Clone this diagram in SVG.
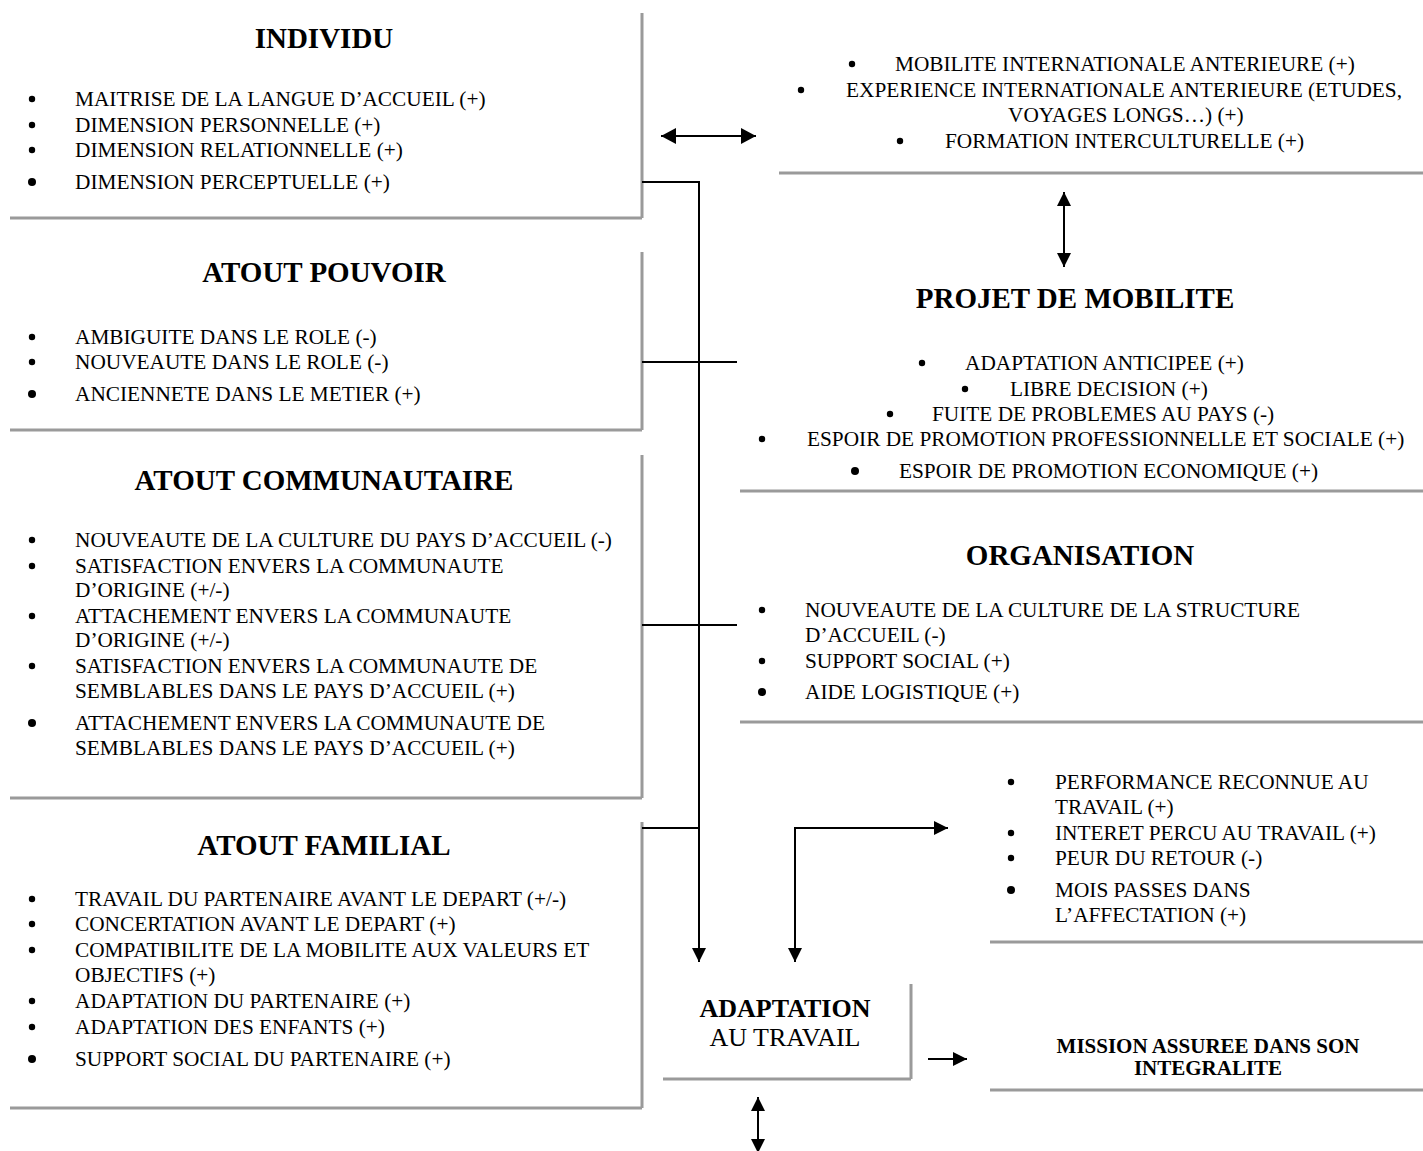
<svg xmlns="http://www.w3.org/2000/svg" width="1423" height="1151" viewBox="0 0 1423 1151">
<style>
  .frame{fill:none;stroke:#9a9a9a;stroke-width:3}
  .title{font-family:"Liberation Serif","Times New Roman",serif;font-weight:bold;font-size:29px;text-anchor:middle;fill:#000}
  .item{font-family:"Liberation Serif","Times New Roman",serif;font-size:21.3px;fill:#000}
  .conn{fill:none;stroke:#000;stroke-width:2}
  .b{fill:#000}
</style>
<defs>
  <marker id="ah" viewBox="0 0 14 14" refX="14" refY="7" markerWidth="14" markerHeight="14" markerUnits="userSpaceOnUse" orient="auto-start-reverse">
    <path d="M0,0 L14,7 L0,14 z" fill="#000"/>
  </marker>
  <marker id="ahb" viewBox="0 0 15 16" refX="15" refY="8" markerWidth="15" markerHeight="16" markerUnits="userSpaceOnUse" orient="auto-start-reverse">
    <path d="M0,0 L15,8 L0,16 z" fill="#000"/>
  </marker>
</defs>
<rect width="1423" height="1151" fill="#fff"/>

<g id="individu">
  <path class="frame" d="M10,218 H642 M642,13 V218"/>
  <text class="title" x="324" y="48">INDIVIDU</text>
  <circle class="b" cx="32" cy="99" r="3.2"/><text class="item" x="75" y="106">MAITRISE DE LA LANGUE D’ACCUEIL (+)</text>
  <circle class="b" cx="32" cy="125" r="3.2"/><text class="item" x="75" y="132">DIMENSION PERSONNELLE (+)</text>
  <circle class="b" cx="32" cy="150" r="3.2"/><text class="item" x="75" y="157">DIMENSION RELATIONNELLE (+)</text>
  <circle class="b" cx="32" cy="182" r="4"/><text class="item" x="75" y="189">DIMENSION PERCEPTUELLE (+)</text>
</g>

<g id="atout-pouvoir">
  <path class="frame" d="M10,430 H642 M642,252 V430"/>
  <text class="title" x="324" y="282">ATOUT POUVOIR</text>
  <circle class="b" cx="32" cy="337" r="3.2"/><text class="item" x="75" y="344">AMBIGUITE DANS LE ROLE (-)</text>
  <circle class="b" cx="32" cy="362" r="3.2"/><text class="item" x="75" y="369">NOUVEAUTE DANS LE ROLE (-)</text>
  <circle class="b" cx="32" cy="394" r="4"/><text class="item" x="75" y="401">ANCIENNETE DANS LE METIER (+)</text>
</g>

<g id="atout-communautaire">
  <path class="frame" d="M10,798 H642 M642,455 V798"/>
  <text class="title" x="324" y="490">ATOUT COMMUNAUTAIRE</text>
  <circle class="b" cx="32" cy="540" r="3.2"/><text class="item" x="75" y="547">NOUVEAUTE DE LA CULTURE DU PAYS D’ACCUEIL (-)</text>
  <circle class="b" cx="32" cy="566" r="3.2"/><text class="item" x="75" y="573">SATISFACTION ENVERS LA COMMUNAUTE</text>
  <text class="item" x="75" y="597">D’ORIGINE (+/-)</text>
  <circle class="b" cx="32" cy="616" r="3.2"/><text class="item" x="75" y="623">ATTACHEMENT ENVERS LA COMMUNAUTE</text>
  <text class="item" x="75" y="647">D’ORIGINE (+/-)</text>
  <circle class="b" cx="32" cy="666" r="3.2"/><text class="item" x="75" y="673">SATISFACTION ENVERS LA COMMUNAUTE DE</text>
  <text class="item" x="75" y="698">SEMBLABLES DANS LE PAYS D’ACCUEIL (+)</text>
  <circle class="b" cx="32" cy="723" r="4"/><text class="item" x="75" y="730">ATTACHEMENT ENVERS LA COMMUNAUTE DE</text>
  <text class="item" x="75" y="755">SEMBLABLES DANS LE PAYS D’ACCUEIL (+)</text>
</g>

<g id="atout-familial">
  <path class="frame" d="M10,1108 H642 M642,822 V1108"/>
  <text class="title" x="324" y="855">ATOUT FAMILIAL</text>
  <circle class="b" cx="32" cy="899" r="3.2"/><text class="item" x="75" y="906">TRAVAIL DU PARTENAIRE AVANT LE DEPART (+/-)</text>
  <circle class="b" cx="32" cy="924" r="3.2"/><text class="item" x="75" y="931">CONCERTATION AVANT LE DEPART (+)</text>
  <circle class="b" cx="32" cy="950" r="3.2"/><text class="item" x="75" y="957">COMPATIBILITE DE LA MOBILITE AUX VALEURS ET</text>
  <text class="item" x="75" y="982">OBJECTIFS (+)</text>
  <circle class="b" cx="32" cy="1001" r="3.2"/><text class="item" x="75" y="1008">ADAPTATION DU PARTENAIRE (+)</text>
  <circle class="b" cx="32" cy="1027" r="3.2"/><text class="item" x="75" y="1034">ADAPTATION DES ENFANTS (+)</text>
  <circle class="b" cx="32" cy="1059" r="4"/><text class="item" x="75" y="1066">SUPPORT SOCIAL DU PARTENAIRE (+)</text>
</g>

<g id="experience-anterieure">
  <path class="frame" d="M779,173 H1423"/>
  <circle class="b" cx="852" cy="64" r="3.2"/><text class="item" x="895" y="71">MOBILITE INTERNATIONALE ANTERIEURE (+)</text>
  <circle class="b" cx="801" cy="90" r="3.2"/><text class="item" x="846" y="97">EXPERIENCE INTERNATIONALE ANTERIEURE (ETUDES,</text>
  <text class="item" x="1008" y="122">VOYAGES LONGS…) (+)</text>
  <circle class="b" cx="900" cy="141" r="3.2"/><text class="item" x="945" y="148">FORMATION INTERCULTURELLE (+)</text>
</g>

<g id="projet-mobilite">
  <path class="frame" d="M740,491 H1423"/>
  <text class="title" x="1075" y="308">PROJET DE MOBILITE</text>
  <circle class="b" cx="922" cy="363" r="3.2"/><text class="item" x="965" y="370">ADAPTATION ANTICIPEE (+)</text>
  <circle class="b" cx="965" cy="389" r="3.2"/><text class="item" x="1010" y="396">LIBRE DECISION (+)</text>
  <circle class="b" cx="890" cy="414" r="3.2"/><text class="item" x="932" y="421">FUITE DE PROBLEMES AU PAYS (-)</text>
  <circle class="b" cx="762" cy="439" r="3.2"/><text class="item" x="807" y="446">ESPOIR DE PROMOTION PROFESSIONNELLE ET SOCIALE (+)</text>
  <circle class="b" cx="855" cy="471" r="4"/><text class="item" x="899" y="478">ESPOIR DE PROMOTION ECONOMIQUE (+)</text>
</g>

<g id="organisation">
  <path class="frame" d="M740,722 H1423"/>
  <text class="title" x="1080" y="565">ORGANISATION</text>
  <circle class="b" cx="762" cy="610" r="3.2"/><text class="item" x="805" y="617">NOUVEAUTE DE LA CULTURE DE LA STRUCTURE</text>
  <text class="item" x="805" y="642">D’ACCUEIL (-)</text>
  <circle class="b" cx="762" cy="661" r="3.2"/><text class="item" x="805" y="668">SUPPORT SOCIAL (+)</text>
  <circle class="b" cx="762" cy="692" r="4"/><text class="item" x="805" y="699">AIDE LOGISTIQUE (+)</text>
</g>

<g id="resultats-travail">
  <path class="frame" d="M990,942 H1423"/>
  <circle class="b" cx="1011" cy="782" r="3.2"/><text class="item" x="1055" y="789">PERFORMANCE RECONNUE AU</text>
  <text class="item" x="1055" y="814">TRAVAIL (+)</text>
  <circle class="b" cx="1011" cy="833" r="3.2"/><text class="item" x="1055" y="840">INTERET PERCU AU TRAVAIL (+)</text>
  <circle class="b" cx="1011" cy="858" r="3.2"/><text class="item" x="1055" y="865">PEUR DU RETOUR (-)</text>
  <circle class="b" cx="1011" cy="890" r="4"/><text class="item" x="1055" y="897">MOIS PASSES DANS</text>
  <text class="item" x="1055" y="922">L’AFFECTATION (+)</text>
</g>

<g id="mission">
  <path class="frame" d="M990,1090 H1423"/>
  <text x="1208" y="1053" font-family="Liberation Serif, Times New Roman, serif" font-weight="bold" font-size="21" text-anchor="middle">MISSION ASSUREE DANS SON</text>
  <text x="1208" y="1075" font-family="Liberation Serif, Times New Roman, serif" font-weight="bold" font-size="21" text-anchor="middle">INTEGRALITE</text>
</g>

<g id="adaptation">
  <path class="frame" d="M663,1079 H911 M911,984 V1079"/>
  <text x="785" y="1017" font-family="Liberation Serif, Times New Roman, serif" font-weight="bold" font-size="26" text-anchor="middle">ADAPTATION</text>
  <text x="785" y="1046" font-family="Liberation Serif, Times New Roman, serif" font-size="26" text-anchor="middle">AU TRAVAIL</text>
</g>

<g id="connectors">
  <path class="conn" d="M642,182 H699 V962" marker-end="url(#ah)"/>
  <path class="conn" d="M642,362 H737"/>
  <path class="conn" d="M642,625 H737"/>
  <path class="conn" d="M642,828 H699"/>
  <path class="conn" d="M795,962 V828 H948" marker-start="url(#ah)" marker-end="url(#ah)"/>
  <path class="conn" d="M661,136 H756" marker-start="url(#ahb)" marker-end="url(#ahb)"/>
  <path class="conn" d="M1064,192 V267" marker-start="url(#ah)" marker-end="url(#ah)"/>
  <path class="conn" d="M928,1059 H967" marker-end="url(#ah)"/>
  <path class="conn" d="M758,1097 V1153" marker-start="url(#ah)" marker-end="url(#ah)"/>
</g>
</svg>
